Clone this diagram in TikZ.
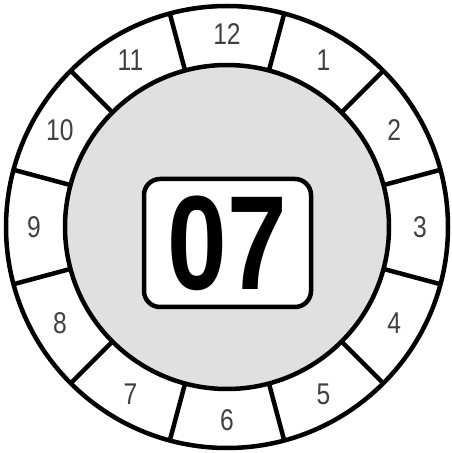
\documentclass[tikz,border=0pt]{standalone}
\usepackage{fontspec}
\setmainfont{Liberation Sans}
\usetikzlibrary{calc}

\begin{document}
\begin{tikzpicture}[x=1pt,y=1pt,
    ring/.style={line width=4.5pt},
    hour/.style={font=\fontsize{30}{30}\selectfont, text=black!75, xscale=0.82, inner sep=0pt},
    plate/.style={draw, line width=4.5pt, fill=white, rounded corners=16pt,
      minimum width=167pt, minimum height=128pt}]
  \useasboundingbox (0,0) rectangle (451,453);
  \coordinate (c) at (227,226);

  % stippled centre disc and the ring
  \fill[gray!24] (c) circle (162);
  \draw[ring] (c) circle (221);
  \draw[ring] (c) circle (162);

  % twelve cells
  \foreach \k in {1,...,12}{%
      \draw[ring] ($(c)+(105-30*\k:162)$) -- ($(c)+(105-30*\k:221)$);
      \node (h\k) [hour] at ($(c)+(90-30*\k:193)$) {\k};
    }

  \node (plate) [plate] at (227.5,210) {};
  \node (num) [font=\bfseries\fontsize{134}{134}\selectfont, xscale=0.8, inner sep=0pt]
    at (plate.center) {07};
\end{tikzpicture}
\end{document}
